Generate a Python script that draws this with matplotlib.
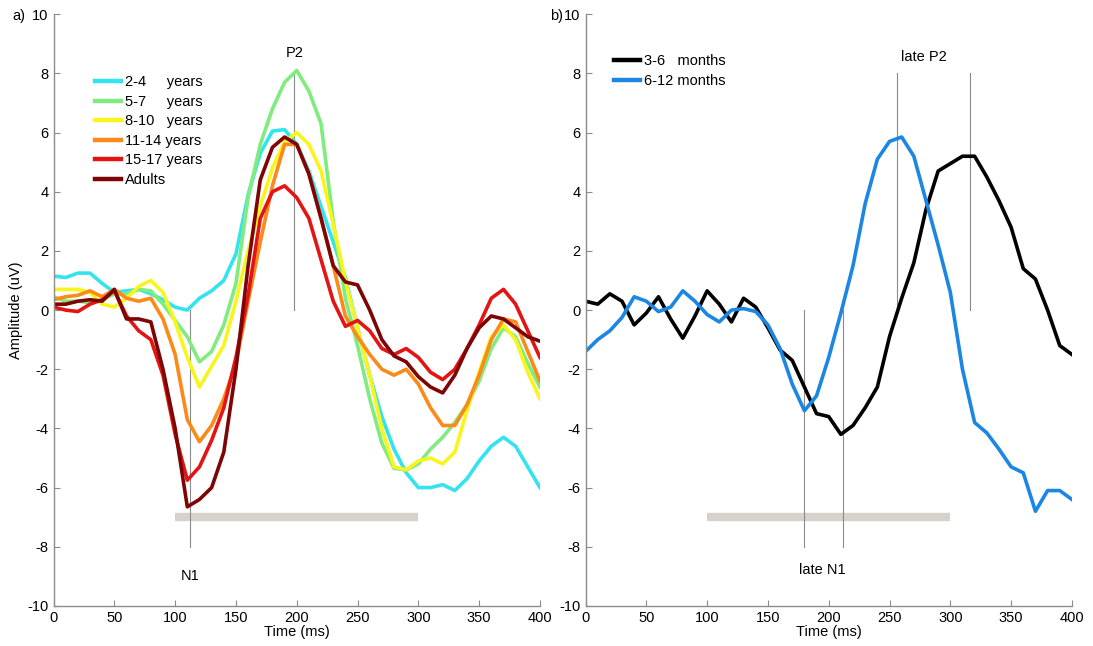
import numpy as np
import matplotlib
matplotlib.use('Agg')
import matplotlib.pyplot as plt

plt.rcParams['font.family'] = ['Liberation Sans', 'DejaVu Sans']
plt.rcParams['axes.unicode_minus'] = False

# time axis (ms), one value every 10 ms
Time = list(range(0, 410, 10))

# panel a) children / adults
Age_Labels = ['2-4     years', '5-7     years', '8-10   years', '11-14 years', '15-17 years', 'Adults']
Age_Colors = ['#33e3ef', '#80ec80', '#f8f51c', '#fb8a1a', '#e41414', '#7d0505']

Y_2_4 = [1.15, 1.1, 1.25, 1.25, 0.9, 0.6, 0.65, 0.7, 0.55, 0.35, 0.1, 0.0, 0.4, 0.65, 1.0, 1.9,
         3.9, 5.3, 6.05, 6.1, 5.6, 4.7, 3.5, 2.3, 1.1, -0.6, -2.2, -3.6, -4.7, -5.5, -6.0, -6.0,
         -5.9, -6.1, -5.7, -5.1, -4.6, -4.3, -4.6, -5.3, -6.0]
Y_5_7 = [0.45, 0.3, 0.3, 0.25, 0.35, 0.55, 0.55, 0.7, 0.65, 0.2, -0.35, -0.9, -1.75, -1.4, -0.5, 0.9,
         3.8, 5.6, 6.8, 7.7, 8.1, 7.4, 6.3, 3.0, 0.4, -1.2, -3.0, -4.5, -5.35, -5.4, -5.2, -4.7,
         -4.3, -3.8, -3.2, -2.4, -1.3, -0.6, -0.9, -1.8, -2.6]
Y_8_10 = [0.7, 0.7, 0.7, 0.6, 0.2, 0.1, 0.4, 0.8, 1.0, 0.6, -0.4, -1.6, -2.6, -1.9, -1.2, 0.3,
          2.0, 3.5, 4.8, 5.7, 6.0, 5.6, 4.7, 2.9, 1.0, -0.6, -2.2, -4.0, -5.3, -5.4, -5.1, -5.0,
          -5.2, -4.8, -3.4, -2.1, -0.9, -0.5, -1.0, -2.1, -3.0]
Y_11_14 = [0.35, 0.45, 0.5, 0.65, 0.45, 0.7, 0.4, 0.3, 0.4, -0.3, -1.5, -3.7, -4.45, -3.9, -3.0, -1.8,
           0.3, 2.3, 4.2, 5.6, 5.6, 4.6, 3.1, 1.5, -0.2, -0.9, -1.5, -2.0, -2.2, -2.0, -2.5, -3.3,
           -3.9, -3.9, -3.2, -2.2, -1.0, -0.3, -0.4, -1.4, -2.4]
Y_15_17 = [0.1, 0.0, -0.05, 0.2, 0.35, 0.65, -0.2, -0.7, -1.0, -2.2, -4.2, -5.75, -5.3, -4.4, -3.3, -1.6,
           0.5, 3.1, 4.0, 4.2, 3.8, 3.1, 1.7, 0.3, -0.55, -0.35, -0.7, -1.3, -1.5, -1.3, -1.6, -2.1,
           -2.35, -2.0, -1.3, -0.5, 0.4, 0.7, 0.2, -0.7, -1.6]
Y_Adults = [0.2, 0.2, 0.3, 0.35, 0.3, 0.7, -0.3, -0.3, -0.4, -2.0, -4.0, -6.65, -6.4, -6.0, -4.8, -2.0,
            1.5, 4.4, 5.5, 5.85, 5.6, 4.6, 3.1, 1.5, 0.95, 0.85, 0.0, -1.0, -1.55, -1.75, -2.25, -2.6,
            -2.8, -2.2, -1.3, -0.6, -0.2, -0.3, -0.6, -0.9, -1.05]
Age_Data = [Y_2_4, Y_5_7, Y_8_10, Y_11_14, Y_15_17, Y_Adults]

# panel b) infants
Infant_Labels = ['3-6   months', '6-12 months']
Infant_Colors = ['#000000', '#1b86e3']
Y_3_6 = [0.3, 0.2, 0.55, 0.3, -0.5, -0.1, 0.45, -0.3, -0.95, -0.2, 0.65, 0.2, -0.4, 0.4, 0.1, -0.6,
         -1.35, -1.7, -2.6, -3.5, -3.6, -4.2, -3.9, -3.3, -2.6, -0.9, 0.4, 1.6, 3.4, 4.7, 4.95, 5.2,
         5.2, 4.5, 3.7, 2.8, 1.4, 1.05, 0.0, -1.2, -1.5]
Y_6_12 = [-1.4, -1.0, -0.7, -0.25, 0.45, 0.3, -0.05, 0.1, 0.65, 0.3, -0.15, -0.4, 0.0, 0.05, -0.05, -0.5,
          -1.3, -2.5, -3.4, -2.9, -1.6, -0.1, 1.5, 3.6, 5.1, 5.7, 5.85, 5.2, 3.7, 2.2, 0.6, -2.0,
          -3.8, -4.15, -4.7, -5.3, -5.5, -6.8, -6.1, -6.1, -6.4]
Infant_Data = [Y_3_6, Y_6_12]

# peak markers (ms) and analysis window
N1_Lat = [112]
P2_Lat = [198]
Late_N1_Lat = [180, 212]
Late_P2_Lat = [256, 316]
Window = [100, 300]
Window_Level = -7.0

Font_Size = 10.5


def Setup_Axes(ax):
    ax.set_xlim(0, 400)
    ax.set_ylim(-10, 10)
    ax.set_xticks(range(0, 401, 50))
    ax.set_yticks(range(-10, 11, 2))
    for s in ['top', 'right']:
        ax.spines[s].set_visible(False)
    for s in ['left', 'bottom']:
        ax.spines[s].set_color('#8c8c8c')
        ax.spines[s].set_linewidth(1.0)
    ax.tick_params(direction='in', length=4, color='#8c8c8c', labelsize=Font_Size, pad=3.5)
    ax.set_xlabel('Time (ms)', fontsize=Font_Size, labelpad=0)


def Draw_Window(ax):
    ax.plot(Window, [Window_Level, Window_Level], color='#d6d2cb', linewidth=6,
            solid_capstyle='butt', zorder=1)


def Draw_Legend(ax, x, y):
    leg = ax.legend(loc='upper left', bbox_to_anchor=(x, y), frameon=False,
                    fontsize=Font_Size, handlelength=1.8, handletextpad=0.25,
                    labelspacing=0.38, borderaxespad=0)
    for l in leg.get_lines():
        l.set_linewidth(3.2)


fig = plt.figure(figsize=(10.93, 6.46), dpi=100)
ax1 = fig.add_axes([0.049, 0.062, 0.445, 0.916])
ax2 = fig.add_axes([0.5357, 0.062, 0.445, 0.916])

#-------------------------------------------------------------------------------
# a)
Setup_Axes(ax1)
Draw_Window(ax1)
for t in N1_Lat:
    ax1.plot([t, t], [-8, 0], color='#8a8a8a', linewidth=0.8, zorder=1)
for t in P2_Lat:
    ax1.plot([t, t], [0, 8], color='#8a8a8a', linewidth=0.8, zorder=1)
for i in range(len(Age_Data)):
    ax1.plot(Time, Age_Data[i], color=Age_Colors[i], linewidth=2.6, label=Age_Labels[i],
             solid_joinstyle='round', zorder=2)
ax1.text(P2_Lat[0], 8.7, 'P2', ha='center', va='center', fontsize=Font_Size)
ax1.text(N1_Lat[0], -9.0, 'N1', ha='center', va='center', fontsize=Font_Size)
ax1.set_ylabel('Amplitude (uV)', fontsize=Font_Size, labelpad=3)
Draw_Legend(ax1, 0.073, 0.907)
fig.text(0.011, 0.975, 'a)', fontsize=Font_Size, va='center')

#-------------------------------------------------------------------------------
# b)
Setup_Axes(ax2)
Draw_Window(ax2)
for t in Late_N1_Lat:
    ax2.plot([t, t], [-8, 0], color='#8a8a8a', linewidth=0.8, zorder=1)
for t in Late_P2_Lat:
    ax2.plot([t, t], [0, 8], color='#8a8a8a', linewidth=0.8, zorder=1)
for i in range(len(Infant_Data)):
    ax2.plot(Time, Infant_Data[i], color=Infant_Colors[i], linewidth=2.6, label=Infant_Labels[i],
             solid_joinstyle='round', zorder=2)
ax2.text(278, 8.55, 'late P2', ha='center', va='center', fontsize=Font_Size)
ax2.text(195, -8.8, 'late N1', ha='center', va='center', fontsize=Font_Size)
Draw_Legend(ax2, 0.046, 0.942)
fig.text(0.503, 0.975, 'b)', fontsize=Font_Size, va='center')

plt.savefig('out.png', dpi=100)
